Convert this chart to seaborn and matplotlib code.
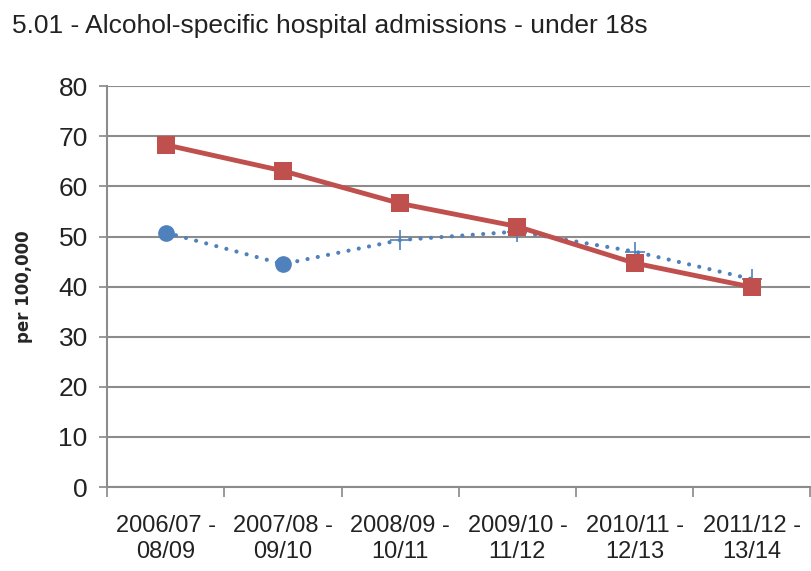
import numpy as np
import pandas as pd
import matplotlib
matplotlib.use('Agg')
import matplotlib.pyplot as plt
import seaborn as sns

# data
periods = ['2006/07 -\n08/09', '2007/08 -\n09/10', '2008/09 -\n10/11',
           '2009/10 -\n11/12', '2010/11 -\n12/13', '2011/12 -\n13/14']
local_rate = [68.3, 63.1, 56.6, 52.0, 44.7, 39.9]
england_rate = [50.8, 44.5, 49.3, 51.0, 47.0, 41.5]
england_marker = ['o', 'o', '+', '+', '+', '+']

sns.set_theme(style='white')
plt.rcParams['font.family'] = ['Liberation Sans', 'DejaVu Sans']

red = '#C0504D'
blue = '#4F81BD'

df = pd.DataFrame({'pos': np.arange(len(periods)),
                   'local': local_rate,
                   'england': england_rate,
                   'mk': england_marker})

fig = plt.figure(figsize=(8.12, 5.71), dpi=100)
ax = fig.add_axes([0.132, 0.147, 0.866, 0.702])

# England line (dotted) and its markers
sns.lineplot(data=df, x='pos', y='england', color=blue, linewidth=3.0,
             linestyle=(0, (0.01, 2.5)), dash_capstyle='round', ax=ax, zorder=3)
circ = df[df['mk'] == 'o']
plus = df[df['mk'] == '+']
ax.plot(circ['pos'], circ['england'], 'o', color=blue, markersize=11, zorder=4)
ax.plot(plus['pos'], plus['england'], '+', color=blue, markersize=14,
        markeredgewidth=1.2, zorder=4)

# local line
sns.lineplot(data=df, x='pos', y='local', color=red, linewidth=3.5,
             marker='s', markersize=13, markeredgewidth=0, ax=ax, zorder=5)

ax.set_xlim(-0.5, len(periods) - 0.5)
ax.set_ylim(0, 80)
ax.set_yticks(np.arange(0, 81, 10))
ax.set_xticks(df['pos'])
ax.set_xticklabels(periods, fontsize=17, color='#222222', linespacing=1.25)
ax.set_xticks(np.arange(-0.5, len(periods)), minor=True)
ax.tick_params(axis='x', which='major', length=0, pad=20)
ax.tick_params(axis='x', which='minor', length=7, color='#888888', width=1.2, direction='out', bottom=True)
ax.tick_params(axis='y', length=6, color='#888888', width=1.2, direction='out', left=True,
               labelsize=19, labelcolor='#222222', pad=8)

ax.grid(axis='y', color='#8c8c8c', linewidth=1.5)
ax.set_axisbelow(True)
for s in ['top', 'right']:
    ax.spines[s].set_visible(False)
for s in ['left', 'bottom']:
    ax.spines[s].set_color('#8c8c8c')
    ax.spines[s].set_linewidth(1.5)

ax.set_xlabel('')
ax.set_ylabel('per 100,000', fontsize=12, fontweight='bold', family='DejaVu Sans', labelpad=18)

fig.text(0.015, 0.955, '5.01 - Alcohol-specific hospital admissions - under 18s',
         fontsize=19, color='#222222', va='center', ha='left')

fig.savefig('out.png', dpi=100)
